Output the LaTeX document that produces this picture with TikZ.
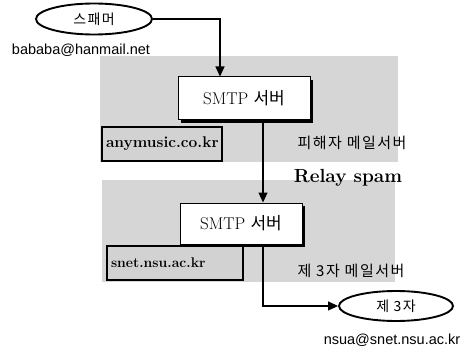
\documentclass[tikz,border=0pt]{standalone}
\usepackage{fontspec}
\setsansfont{Liberation Sans}
\newfontfamily\krfont{Noto Sans CJK KR}
\newfontfamily\krwide[LetterSpace=10]{Noto Sans CJK KR}
\usetikzlibrary{arrows.meta,shapes.geometric,shadows}

\begin{document}
\begin{tikzpicture}[x=1pt,y=-1pt,>={Triangle[length=10pt,width=9pt]},line width=1.1pt]
  \tikzstyle{userbox}=[ellipse,draw,line width=1.9pt,minimum width=116pt,minimum height=31pt,inner sep=0pt,font=\krwide\fontsize{14}{16}\selectfont]
  \tikzstyle{serverbox}=[draw,fill=white,line width=1pt,inner sep=0pt,drop shadow={shadow xshift=3pt,shadow yshift=-3pt,fill=black,opacity=1},font=\fontsize{17}{20}\selectfont]
  \tikzstyle{domainbox}=[draw,fill=gray!35,line width=2.4pt,inner xsep=4pt,inner ysep=0pt,align=left,minimum height=34pt,font=\bfseries\fontsize{14}{16}\selectfont]
  \tikzstyle{addrlabel}=[inner sep=0pt,font=\sffamily\fontsize{14.5}{16}\selectfont]
  \tikzstyle{placelabel}=[inner sep=0pt,font=\krwide\fontsize{15}{17}\selectfont]
  \tikzstyle{areafill}=[fill=gray!32]

  \useasboundingbox (0,0) rectangle (469,353);

  % mail server areas
  \fill[areafill] (100,56) rectangle (398,162);
  \fill[areafill] (102,180) rectangle (395,282);

  % spammer
  \node[userbox] (spammer) at (94,19) {스패머};
  \node[addrlabel] (spamaddr) at (81,50) {bababa@hanmail.net};

  % victim server
  \node[serverbox,minimum width=132pt,minimum height=43pt] (smtp1) at (244,98.5) {SMTP {\krfont 서버}};
  \node[domainbox,text width=112pt,font=\bfseries\fontsize{15.5}{17}\selectfont] (dom1) at (162,144) {anymusic.co.kr};
  \node[placelabel] (victim) at (352,143) {피해자 메일서버};

  \node[inner sep=0pt,font=\bfseries\fontsize{19}{22}\selectfont] (relay) at (348,178) {Relay spam};

  % third party server
  \node[serverbox,minimum width=122pt,minimum height=41pt] (smtp2) at (241,223.5) {SMTP {\krfont 서버}};
  \node[domainbox,text width=128pt] (dom2) at (175,263) {snet.nsu.ac.kr};
  \node[placelabel] (thirdsrv) at (351,271) {제 3자 메일서버};

  % third party
  \node[userbox,minimum width=114pt,minimum height=30pt] (third) at (396,306) {제 3자};
  \node[addrlabel] (thirdaddr) at (392,340) {nsua@snet.nsu.ac.kr};

  \draw[->] (spammer.east) -| ([xshift=-24pt]smtp1.north);
  \draw[->] ([xshift=19pt]smtp1.south) -- ([xshift=22pt]smtp2.north);
  \draw[->] ([xshift=22pt]smtp2.south) |- (third.west);

\end{tikzpicture}
\end{document}
